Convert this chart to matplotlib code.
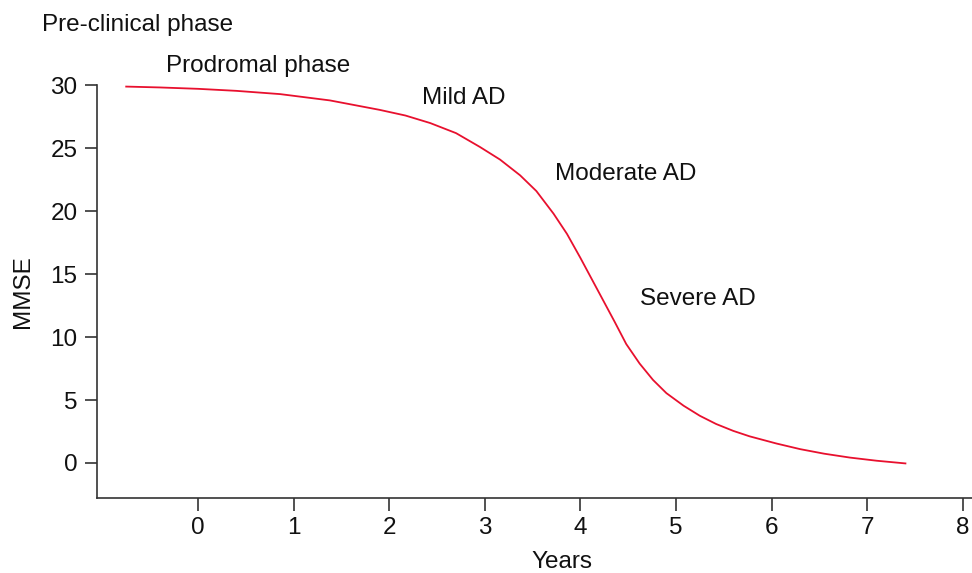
import matplotlib
matplotlib.use("Agg")
import matplotlib.pyplot as plt

plt.rcParams['font.family'] = ['Liberation Sans', 'DejaVu Sans']

years = [-0.76, -0.4, 0.0, 0.4, 0.86, 1.38, 1.90, 2.17, 2.43, 2.70, 2.95, 3.16,
         3.37, 3.54, 3.72, 3.86, 4.00, 4.12, 4.24, 4.36, 4.48, 4.62, 4.76,
         4.90, 5.08, 5.25, 5.42, 5.60, 5.77, 6.05, 6.30, 6.55, 6.82, 7.10, 7.41]
mmse = [29.9, 29.83, 29.72, 29.56, 29.3, 28.8, 28.05, 27.6, 27.0, 26.2, 25.1, 24.1,
        22.85, 21.6, 19.8, 18.2, 16.3, 14.6, 12.9, 11.2, 9.45, 7.9, 6.6,
        5.55, 4.55, 3.75, 3.1, 2.55, 2.12, 1.55, 1.1, 0.74, 0.43, 0.18, -0.04]

x_ticks = [0, 1, 2, 3, 4, 5, 6, 7, 8]
y_ticks = [0, 5, 10, 15, 20, 25, 30]

phase_labels = ["Pre-clinical phase", "Prodromal phase", "Mild AD", "Moderate AD", "Severe AD"]
phase_x = [-1.63, -0.335, 2.34, 3.73, 4.62]
phase_y = [34.3, 31.06, 28.5, 22.44, 12.56]

FS = 17.5
fig = plt.figure(figsize=(9.72, 5.73), dpi=100)
ax = fig.add_axes([97/972, 75/573, 875/972, 412.7/573])

ax.plot(years, mmse, color='#E8102E', lw=1.3, solid_capstyle='butt',
        solid_joinstyle='round')

ax.set_xlim(-1.056, 8.097)
ax.set_ylim(-2.78, 30)
ax.set_xticks(x_ticks)
ax.set_yticks(y_ticks)

for s in ['top', 'right']:
    ax.spines[s].set_visible(False)
for s in ['left', 'bottom']:
    ax.spines[s].set_color('#333333')
    ax.spines[s].set_linewidth(1.2)

ax.tick_params(axis='both', length=9, width=1.2, color='#333333',
               labelsize=FS, labelcolor='#111111', pad=5)

ax.set_xlabel("Years", fontsize=FS, color='#111111')
ax.xaxis.set_label_coords(0.531, -0.128)
ax.set_ylabel("MMSE", fontsize=FS, color='#111111', labelpad=12)

for lab, x, y in zip(phase_labels, phase_x, phase_y):
    ax.text(x, y, lab, fontsize=FS, color='#111111', ha='left', va='baseline',
            clip_on=False)

fig.savefig("out.png", dpi=100, facecolor='white')
